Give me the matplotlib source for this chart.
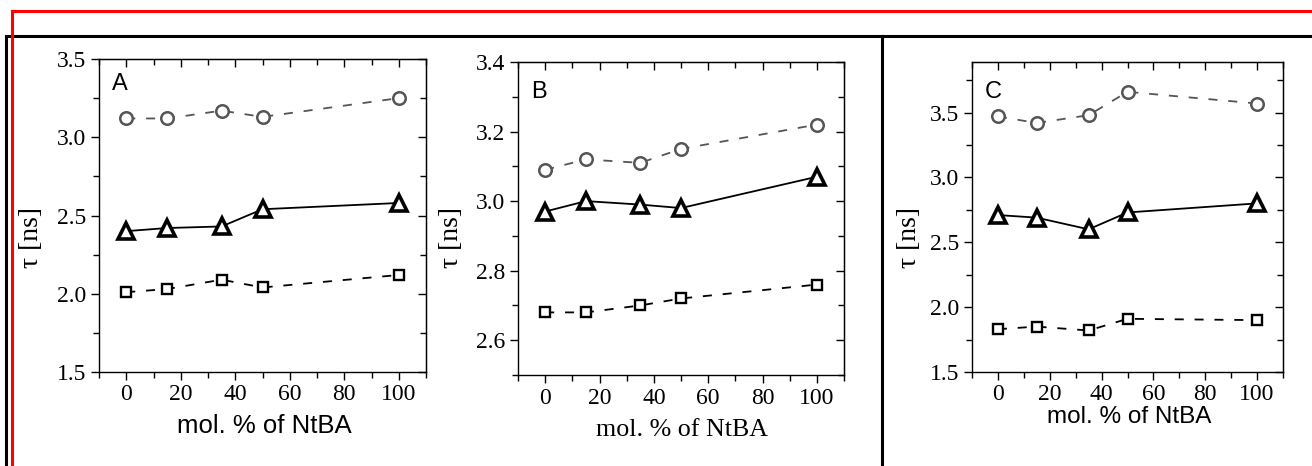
import matplotlib
matplotlib.use("Agg")
import matplotlib.pyplot as plt
from matplotlib.lines import Line2D
from matplotlib.ticker import MultipleLocator, FormatStrFormatter

# mol. % of NtBA
x_mol = [0, 15, 35, 50, 100]

# panel A
a_circle = [3.12, 3.12, 3.17, 3.13, 3.25]
a_triangle = [2.40, 2.42, 2.43, 2.54, 2.58]
a_square = [2.01, 2.03, 2.09, 2.04, 2.12]

# panel B
b_circle = [3.09, 3.12, 3.11, 3.15, 3.22]
b_triangle = [2.97, 3.00, 2.99, 2.98, 3.07]
b_square = [2.68, 2.68, 2.70, 2.72, 2.76]

# panel C
c_circle = [3.47, 3.42, 3.48, 3.66, 3.57]
c_triangle = [2.71, 2.69, 2.60, 2.73, 2.80]
c_square = [1.83, 1.85, 1.82, 1.91, 1.90]

W, H = 1312, 466
SERIF = "Liberation Serif"
SANS = "Liberation Sans"


def px(x, y):
    """pixel coords (top-left origin) -> figure fraction"""
    return x / W, 1 - y / H


def setup_axes(ax, ylim, ymajor, yminor):
    ax.set_xlim(-10, 110)
    ax.set_ylim(*ylim)
    ax.xaxis.set_major_locator(MultipleLocator(20))
    ax.xaxis.set_minor_locator(MultipleLocator(10))
    ax.yaxis.set_major_locator(MultipleLocator(ymajor))
    ax.yaxis.set_minor_locator(MultipleLocator(yminor))
    ax.yaxis.set_major_formatter(FormatStrFormatter("%.1f"))
    ax.tick_params(which="major", direction="out", length=6, width=1, labelsize=17, pad=3)
    ax.tick_params(which="minor", direction="out", length=4, width=1)
    for lab in ax.get_xticklabels() + ax.get_yticklabels():
        lab.set_family(SERIF)
    for s in ax.spines.values():
        s.set_linewidth(1.0)

    # inward ticks on top and right, no labels
    top = ax.secondary_xaxis("top")
    top.xaxis.set_major_locator(MultipleLocator(20))
    top.xaxis.set_minor_locator(MultipleLocator(10))
    top.tick_params(which="major", direction="in", length=6, width=1, labeltop=False)
    top.tick_params(which="minor", direction="in", length=4, width=1)
    right = ax.secondary_yaxis("right")
    right.yaxis.set_major_locator(MultipleLocator(ymajor))
    right.yaxis.set_minor_locator(MultipleLocator(yminor))
    right.tick_params(which="major", direction="in", length=6, width=1, labelright=False)
    right.tick_params(which="minor", direction="in", length=4, width=1)


def draw_series(ax, circ, tri, sq):
    ax.plot(x_mol, circ, color="#555555", linestyle=(0, (5, 6)), linewidth=1.3,
            marker="o", markersize=9, markerfacecolor="white",
            markeredgecolor="#555555", markeredgewidth=1.8, zorder=3)
    ax.plot(x_mol, tri, color="black", linestyle="-", linewidth=1.3,
            marker="^", markersize=11.5, markerfacecolor="white",
            markeredgecolor="black", markeredgewidth=2.6, zorder=3)
    ax.plot(x_mol, sq, color="black", linestyle=(0, (5, 6)), linewidth=1.3,
            marker="s", markersize=7.5, markerfacecolor="white",
            markeredgecolor="black", markeredgewidth=1.7, zorder=3)


fig = plt.figure(figsize=(W / 100, H / 100), dpi=100)

axA = fig.add_axes([99 / W, (466 - 372) / H, 327 / W, 313 / H])
axB = fig.add_axes([518 / W, (466 - 375) / H, 326 / W, 313 / H])
axC = fig.add_axes([972 / W, (466 - 372) / H, 311 / W, 310 / H])

setup_axes(axA, (1.5, 3.5), 0.5, 0.25)
setup_axes(axB, (2.5, 3.4), 0.2, 0.1)
setup_axes(axC, (1.5, 3.89), 0.5, 0.25)
axB.set_yticks([2.6, 2.8, 3.0, 3.2, 3.4])

draw_series(axA, a_circle, a_triangle, a_square)
draw_series(axB, b_circle, b_triangle, b_square)
draw_series(axC, c_circle, c_triangle, c_square)

# panel letters
axA.text(0.04, 0.955, "A", transform=axA.transAxes, family=SANS, fontsize=17, va="top", ha="left")
axB.text(0.04, 0.94, "B", transform=axB.transAxes, family=SANS, fontsize=17, va="top", ha="left")
axC.text(0.04, 0.94, "C", transform=axC.transAxes, family=SANS, fontsize=17, va="top", ha="left")

# axis labels placed by pixel (baseline)
fig.text(*px(264, 433), "mol. % of NtBA", family=SANS, fontsize=18.5, ha="center", va="baseline")
fig.text(*px(682, 436), "mol. % of NtBA", family=SERIF, fontsize=18.7, ha="center", va="baseline")
fig.text(*px(1129, 423), "mol. % of NtBA", family=SANS, fontsize=17.5, ha="center", va="baseline")
for xp, yp in [(32, 238), (452, 238), (910, 237)]:
    fig.text(*px(xp, yp), "τ [ns]", family=SERIF, fontsize=20, rotation=90, ha="center", va="center")

# black frame and divider
fig.add_artist(Line2D([6 / W, 6 / W], [0, 1 - 36 / H], color="black", linewidth=2.2))
fig.add_artist(Line2D([6 / W, 1], [1 - 36 / H, 1 - 36 / H], color="black", linewidth=2.2))
fig.add_artist(Line2D([882 / W, 882 / W], [0, 1 - 36 / H], color="black", linewidth=2.2))
# red frame
fig.add_artist(Line2D([12 / W, 12 / W], [0, 1 - 11 / H], color="red", linewidth=2.2))
fig.add_artist(Line2D([12 / W, 1], [1 - 11 / H, 1 - 11 / H], color="red", linewidth=2.2))

fig.savefig("out.png", dpi=100)
